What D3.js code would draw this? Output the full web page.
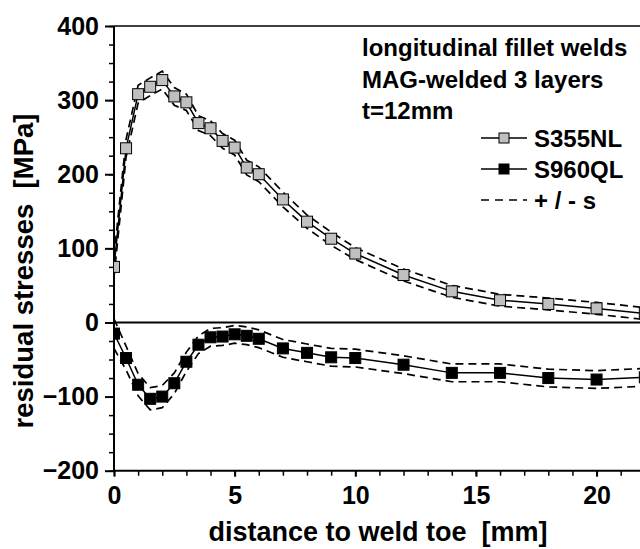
<!DOCTYPE html>
<html>
<head>
<meta charset="utf-8">
<script src="https://cdn.jsdelivr.net/npm/d3@7"></script>
<style>
  body { margin: 0; background: #fff; }
  svg { font-family: "Liberation Sans", Arial, sans-serif; font-weight: bold; }
</style>
</head>
<body>
<div id="chart"></div>
<script>
// distance to weld toe [mm]
var distances = [0, 0.5, 1, 1.5, 2, 2.5, 3, 3.5, 4, 4.5, 5, 5.5, 6, 7, 8, 9, 10, 12, 14, 16, 18, 20, 22]

// residual stresses [MPa]
var s355Values = [75, 235, 308, 318, 327, 305, 297, 269, 262, 245, 236, 209, 200, 166, 136, 113, 93, 64, 42, 30, 25, 19, 12]
var s355Sigma = [14, 12, 12, 12, 12, 12, 11, 10, 10, 10, 10, 10, 10, 10, 9, 9, 8, 8, 8, 8, 8, 8, 8]

var s960Values = [-15, -48, -84, -103, -100, -82, -53, -30, -20, -19, -16, -18, -22, -35, -41, -47, -48, -57, -68, -68, -75, -77, -74]
var s960Sigma = [20, 16, 15, 15, 15, 14, 13, 12, 12, 12, 12, 12, 12, 12, 12, 12, 12, 12, 12, 12, 12, 12, 12]

var xTicks = [0, 5, 10, 15, 20]
var yTicks = [-200, -100, 0, 100, 200, 300, 400]

var legendTitle = ["longitudinal fillet welds", "MAG-welded 3 layers", "t=12mm"]
var seriesNames = ["S355NL", "S960QL", "+ / - s"]

var drawChart = () => {
    var width = 640
    var height = 549

    var svg = d3.select("#chart")
        .append("svg")
        .attr("width", width)
        .attr("height", height)

    var x = d3.scaleLinear().domain([0, 21.8]).range([114, 640])
    var y = d3.scaleLinear().domain([-200, 400]).range([470.7, 26])

    svg.append("defs").append("clipPath").attr("id", "plot")
        .append("rect")
        .attr("x", x(0)).attr("y", y(400))
        .attr("width", x(21.8) - x(0)).attr("height", y(-200) - y(400))

    // minor ticks
    svg.append("g")
        .attr("transform", "translate(" + x(0) + ",0)")
        .call(d3.axisLeft(y).tickValues(d3.range(-200, 401, 25)).tickSize(5).tickFormat(""))
        .call(g => g.select(".domain").remove())
        .selectAll("line").attr("stroke-width", 1.5)
    svg.append("g")
        .attr("transform", "translate(0," + y(-200) + ")")
        .call(d3.axisBottom(x).tickValues(d3.range(0, 22, 1)).tickSize(5).tickFormat(""))
        .call(g => g.select(".domain").remove())
        .selectAll("line").attr("stroke-width", 1.5)

    // major ticks + labels
    var yAxis = svg.append("g")
        .attr("transform", "translate(" + x(0) + ",0)")
        .call(d3.axisLeft(y).tickValues(yTicks).tickSize(9).tickPadding(6))
    yAxis.select(".domain").remove()
    yAxis.selectAll("line").attr("stroke-width", 2)
    yAxis.selectAll("text").style("font-size", "25px").style("font-weight", "bold").attr("fill", "#000")
        .attr("font-family", "Liberation Sans, Arial, sans-serif")

    var xAxis = svg.append("g")
        .attr("transform", "translate(0," + y(-200) + ")")
        .call(d3.axisBottom(x).tickValues(xTicks).tickSize(6).tickPadding(10))
    xAxis.select(".domain").remove()
    xAxis.selectAll("line").attr("stroke-width", 2)
    xAxis.selectAll("text").style("font-size", "25px").style("font-weight", "bold").attr("fill", "#000")
        .attr("font-family", "Liberation Sans, Arial, sans-serif")

    // frame lines
    svg.append("line").attr("x1", x(0)).attr("x2", width).attr("y1", y(400)).attr("y2", y(400))
        .attr("stroke", "#000").attr("stroke-width", 1.5)
    svg.append("line").attr("x1", x(0)).attr("x2", width).attr("y1", y(-200)).attr("y2", y(-200))
        .attr("stroke", "#000").attr("stroke-width", 2)
    svg.append("line").attr("x1", x(0)).attr("x2", x(0)).attr("y1", y(400)).attr("y2", y(-200))
        .attr("stroke", "#000").attr("stroke-width", 2)
    svg.append("line").attr("x1", x(0)).attr("x2", width).attr("y1", y(0)).attr("y2", y(0))
        .attr("stroke", "#000").attr("stroke-width", 2)

    var series = [
        { values: s355Values, sigma: s355Sigma, fill: "#c0c0c0" },
        { values: s960Values, sigma: s960Sigma, fill: "#000" }
    ]

    var plot = svg.append("g").attr("clip-path", "url(#plot)")

    series.forEach(s => {
        var pts = distances.map((d, i) => ({ d: d, v: s.values[i], e: s.sigma[i] }))
        var line = d3.line().x(p => x(p.d))
        var band = [p => p.v + p.e, p => p.v - p.e]

        band.forEach(f => {
            plot.append("path")
                .datum(pts)
                .attr("d", line.y(p => y(f(p))))
                .attr("fill", "none")
                .attr("stroke", "#000")
                .attr("stroke-width", 1.7)
                .attr("stroke-dasharray", "8,5")
        })

        plot.append("path")
            .datum(pts)
            .attr("d", line.y(p => y(p.v)))
            .attr("fill", "none")
            .attr("stroke", "#000")
            .attr("stroke-width", 1.5)

        plot.selectAll(null)
            .data(pts)
            .enter()
            .append("rect")
            .attr("x", p => x(p.d) - 5.5)
            .attr("y", p => y(p.v) - 5.5)
            .attr("width", 11)
            .attr("height", 11)
            .attr("fill", s.fill)
            .attr("stroke", "#000")
            .attr("stroke-width", 1)
    })

    // legend
    var legend = svg.append("g").style("font-size", "24px")
    legend.selectAll("text.title")
        .data(legendTitle)
        .enter()
        .append("text")
        .attr("class", "title")
        .attr("x", 362)
        .attr("y", (d, i) => 56 + i * 31.5)
        .text(d => d)

    seriesNames.forEach((name, i) => {
        var cy = 138 + i * 31
        legend.append("line")
            .attr("x1", 481).attr("x2", 527).attr("y1", cy).attr("y2", cy)
            .attr("stroke", "#000").attr("stroke-width", 1.5)
            .attr("stroke-dasharray", i == 2 ? "8,6" : null)
        if (i < 2) {
            legend.append("rect")
                .attr("x", 499).attr("y", cy - 5).attr("width", 10).attr("height", 10)
                .attr("fill", i == 0 ? "#c0c0c0" : "#000").attr("stroke", "#000")
        }
        legend.append("text")
            .attr("x", 534).attr("y", cy + 8.5)
            .text(name)
    })

    // axis titles
    svg.append("text")
        .attr("x", 378).attr("y", 541)
        .attr("text-anchor", "middle")
        .style("font-size", "27px")
        .attr("xml:space", "preserve")
        .text("distance to weld toe  [mm]")

    svg.append("text")
        .attr("transform", "translate(33,271) rotate(-90)")
        .attr("text-anchor", "middle")
        .style("font-size", "27.5px")
        .attr("xml:space", "preserve")
        .text("residual stresses  [MPa]")
}

drawChart()
</script>
</body>
</html>
